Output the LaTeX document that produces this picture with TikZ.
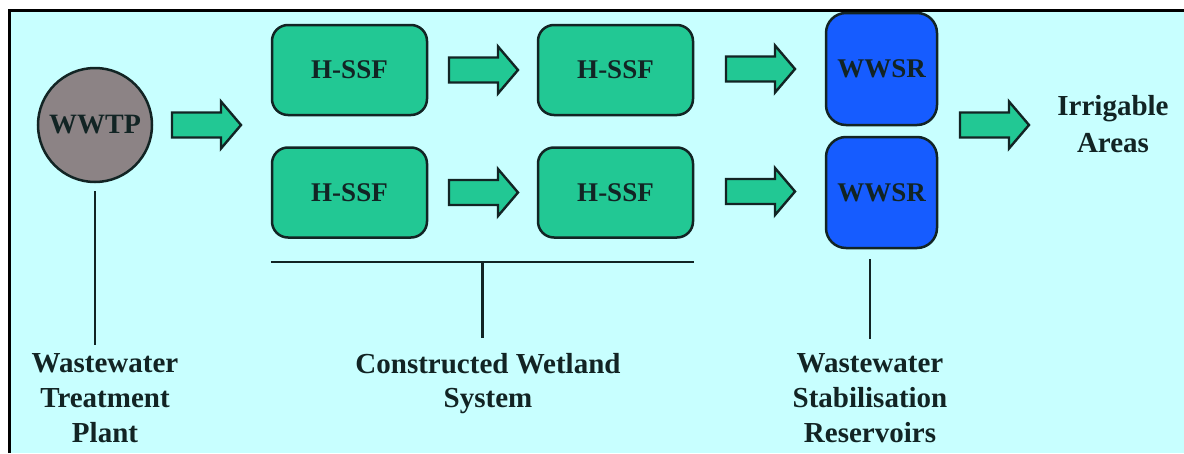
\documentclass[tikz,border=0pt]{standalone}
\usepackage{fontspec}
\setmainfont{Liberation Serif}
\usetikzlibrary{calc}

\definecolor{panel}{RGB}{200,255,255}
\definecolor{wetgreen}{RGB}{34,200,148}
\definecolor{resblue}{RGB}{22,92,255}
\definecolor{plantgray}{RGB}{140,131,133}
\definecolor{ink}{RGB}{18,36,36}

\tikzset{
  every node/.style={text=ink},
  txt/.style={font=\bfseries\fontsize{29}{35}\selectfont, inner sep=0pt, align=center},
  boxtxt/.style={font=\bfseries\fontsize{27}{32}\selectfont, inner sep=0pt, align=center},
  wetbox/.style={draw=ink, line width=2.5pt, fill=wetgreen, rounded corners=16pt,
    minimum width=155pt, minimum height=90pt, boxtxt},
  resbox/.style={draw=ink, line width=2.5pt, fill=resblue, rounded corners=20pt,
    minimum width=111pt, minimum height=111pt, boxtxt},
  plant/.style={draw=ink, line width=2.5pt, fill=plantgray, circle,
    minimum size=114pt, font=\bfseries\fontsize{28}{32}\selectfont, inner sep=0pt},
  tie/.style={draw=ink, line width=2.5pt},
  arrowstyle/.style={draw=ink, line width=2.4pt, fill=wetgreen, line join=miter},
  flowarrow/.pic={
    \draw[arrowstyle] (0,-12.5) -- (49,-12.5) -- (49,-23.5) -- (69,0)
      -- (49,23.5) -- (49,12.5) -- (0,12.5) -- cycle;
  }
}

\begin{document}
\begin{tikzpicture}[x=1pt, y=-1pt]
  \useasboundingbox (0,0) rectangle (1184,453);
  % panel with its frame on the top and left edges
  \fill[white] (0,0) rectangle (1184,453);
  \fill[panel] (10,10) rectangle (1184,453);
  \draw[black, line width=3pt] (9,453) -- (9,10) -- (1184,10);

  % treatment plant
  \node[plant] (wwtp) at (95,125) {WWTP};

  % constructed wetland cells
  \node[wetbox] (hA1) at (349.5,70)  {H-SSF};
  \node[wetbox] (hA2) at (615.5,70)  {H-SSF};
  \node[wetbox] (hB1) at (349.5,192.5) {H-SSF};
  \node[wetbox] (hB2) at (615.5,192.5) {H-SSF};

  % stabilisation reservoirs
  \node[resbox, minimum height=112pt] (res1) at (881.5,69) {WWSR};
  \node[resbox] (res2) at (881.5,192.5) {WWSR};

  % flow arrows
  \pic at (172,125)   {flowarrow};
  \pic at (449,70)    {flowarrow};
  \pic at (449,192.5) {flowarrow};
  \pic at (726,69)    {flowarrow};
  \pic at (726,191.5) {flowarrow};
  \pic at (960,125)   {flowarrow};

  % destination
  \node[txt, anchor=north, font=\bfseries\fontsize{29}{37}\selectfont] (irr) at (1113,95.5) {Irrigable\\Areas};

  % captions
  \node[txt, anchor=north] (lblplant) at (105,353.5) {Wastewater\\Treatment\\Plant};
  \node[txt, anchor=north, font=\bfseries\fontsize{29}{34}\selectfont] (lblwet) at (488,353.5) {Constructed Wetland\\System};
  \node[txt, anchor=north] (lblres) at (870,353.5) {Wastewater\\Stabilisation\\Reservoirs};

  % leader lines to the captions
  \coordinate (wl) at ([yshift=-23pt]hB1.south west);
  \coordinate (wr) at ([yshift=-23pt]hB2.south east);
  \coordinate (wm) at ($(wl)!0.5!(wr)$);
  \draw[tie] ([yshift=-8pt]wwtp.south) -- ([yshift=-8pt]wwtp.south |- 0,337);
  \draw[tie] (wl) -- (wr);
  \draw[tie] (wm) -- (wm |- 0,338);
  \draw[tie] ([yshift=-10pt]res2.south -| lblres.north) -- ([yshift=15pt]lblres.north);
\end{tikzpicture}
\end{document}
